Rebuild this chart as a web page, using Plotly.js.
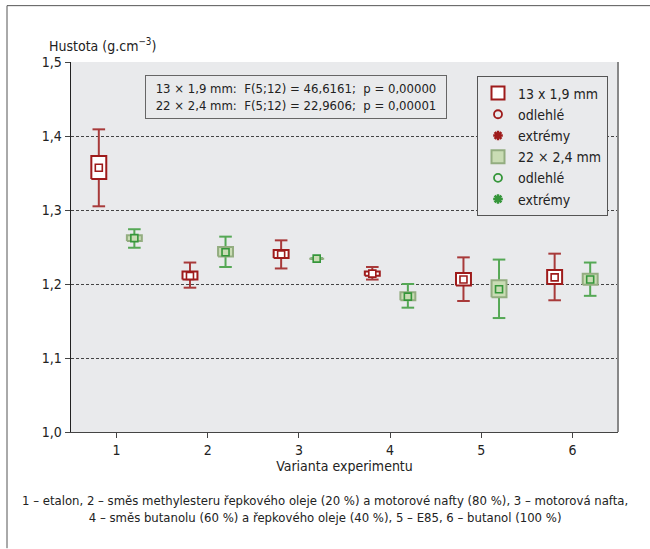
<!DOCTYPE html>
<html>
<head>
<meta charset="utf-8">
<script src="https://cdn.plot.ly/plotly-3.0.1.min.js"></script>
<style>html,body{margin:0;padding:0;background:#fff;}#chart{width:650px;height:549px;}</style>
</head>
<body>
<div id="chart"></div>
<script>
// ---- data ----
const variants = [1, 2, 3, 4, 5, 6];
const tickLabels = ['1', '2', '3', '4', '5', '6'];

// series A: 13 x 1,9 mm
const aMax    = [1.409, 1.229, 1.259, 1.223, 1.236, 1.241];
const aQ3     = [1.373, 1.217, 1.246, 1.217, 1.215, 1.219];
const aMedian = [1.357, 1.211, 1.240, 1.214, 1.206, 1.209];
const aQ1     = [1.342, 1.206, 1.235, 1.211, 1.198, 1.200];
const aMin    = [1.305, 1.195, 1.221, 1.206, 1.177, 1.178];

// series B: 22 x 2,4 mm
const bMax    = [1.274, 1.264, 1.2348, 1.200, 1.233, 1.229];
const bQ3     = [1.266, 1.250, 1.2346, 1.189, 1.205, 1.214];
const bMedian = [1.262, 1.243, 1.2343, 1.183, 1.193, 1.206];
const bQ1     = [1.258, 1.237, 1.2340, 1.178, 1.182, 1.199];
const bMin    = [1.249, 1.223, 1.2338, 1.168, 1.154, 1.184];

const seriesNames = ['13 x 1,9 mm', '22 × 2,4 mm'];
const outlierName = 'odlehlé';
const extremeName = 'extrémy';
const statLines = [
  '13 × 1,9 mm:  F(5;12) = 46,6161;  p = 0,00000',
  '22 × 2,4 mm:  F(5;12) = 22,9606;  p = 0,00001'
];
const yTitle = 'Hustota (g.cm<sup>−3</sup>)';
const xTitle = 'Varianta experimentu';
const footnote = '1 – etalon, 2 – směs methylesteru řepkového oleje (20 %) a motorové nafty (80 %), 3 – motorová nafta,<br>4 – směs butanolu (60 %) a řepkového oleje (40 %), 5 – E85, 6 – butanol (100 %)';

// ---- styling ----
const FONT = 'DejaVu Sans Condensed, Liberation Sans Narrow, Arial Narrow, sans-serif';
const TXT = '#222';
const RED = '#9e1b1b', RED_W = '#a83a3a';
const GRN = '#35963a', GRN_BORDER = '#93ad80', GRN_FILL = '#c9dcb4', GRN_W = '#55a855';
const OFFSET = 0.195, HALF = 0.082;

function boxTraces(off, q1, q3, med, lo, hi, lineCol, fillCol, whiskCol, medLine, medFill) {
  const wx = [], wy = [], bx = [], by = [], cx = [], cy = [];
  variants.forEach((v, i) => {
    const x = v + off;
    wx.push(x, x, null, x, x, null);
    wy.push(q3[i], hi[i], null, q1[i], lo[i], null);
    bx.push(x - HALF, x + HALF, x + HALF, x - HALF, x - HALF, null);
    by.push(q1[i], q1[i], q3[i], q3[i], q1[i], null);
    cx.push(x, x);
    cy.push(hi[i], lo[i]);
  });
  return [
    {type: 'scatter', mode: 'lines', x: wx, y: wy, line: {color: whiskCol, width: 2}, showlegend: false, hoverinfo: 'skip'},
    {type: 'scatter', mode: 'markers', x: cx, y: cy, marker: {symbol: 'line-ew', size: 9, line: {color: whiskCol, width: 2}}, showlegend: false, hoverinfo: 'skip'},
    {type: 'scatter', mode: 'lines', x: bx, y: by, fill: 'toself', fillcolor: fillCol, line: {color: lineCol, width: 2}, showlegend: false, hoverinfo: 'skip'},
    {type: 'scatter', mode: 'markers', x: variants.map(v => v + off), y: med,
      marker: {symbol: 'square', size: 7, color: medFill, line: {color: medLine, width: 1.6}}, showlegend: false}
  ];
}

const nul = [null];
const legendTraces = [
  {type: 'scatter', mode: 'markers', x: nul, y: nul, name: seriesNames[0],
    marker: {symbol: 'square', size: 13, color: '#fff', line: {color: RED, width: 2}}},
  {type: 'scatter', mode: 'markers', x: nul, y: nul, name: outlierName,
    marker: {symbol: 'circle-open', size: 8, color: RED, line: {width: 1.8}}},
  {type: 'scatter', mode: 'markers', x: nul, y: nul, name: extremeName,
    marker: {symbol: 'asterisk-open', size: 8, color: RED, line: {width: 2.5, color: RED}}},
  {type: 'scatter', mode: 'markers', x: nul, y: nul, name: seriesNames[1],
    marker: {symbol: 'square', size: 13, color: GRN_FILL, line: {color: GRN_BORDER, width: 2}}},
  {type: 'scatter', mode: 'markers', x: nul, y: nul, name: outlierName,
    marker: {symbol: 'circle-open', size: 8, color: GRN, line: {width: 1.8}}},
  {type: 'scatter', mode: 'markers', x: nul, y: nul, name: extremeName,
    marker: {symbol: 'asterisk-open', size: 8, color: GRN, line: {width: 2.5, color: GRN}}}
];

const data = [
  ...boxTraces(-OFFSET, aQ1, aQ3, aMedian, aMin, aMax, RED, '#ffffff', RED_W, RED, '#ffffff'),
  ...boxTraces(OFFSET, bQ1, bQ3, bMedian, bMin, bMax, GRN_BORDER, GRN_FILL, GRN_W, GRN, GRN_FILL),
  ...legendTraces
];

// plot area: x 71..618, y 61.5..432.5 px
const L = 71, R = 618, T = 61.5, B = 432.5, W = 650, H = 549;
const px = p => (p - L) / (R - L);
const py = p => (B - p) / (B - T);

const layout = {
  width: W, height: H,
  margin: {l: L, r: W - R, t: T, b: H - B, pad: 0},
  paper_bgcolor: '#ffffff',
  plot_bgcolor: '#e9eaec',
  separators: ', ',
  font: {family: FONT, size: 13, color: TXT},
  showlegend: true,
  legend: {
    x: px(477), y: py(76), xanchor: 'left', yanchor: 'top',
    bgcolor: '#e9eaec', bordercolor: '#555', borderwidth: 1,
    font: {family: FONT, size: 14, color: TXT},
    traceorder: 'normal', itemwidth: 30
  },
  xaxis: {
    range: [0.5, 6.5], tickvals: variants, ticktext: tickLabels,
    showgrid: false, zeroline: false, showline: true, linecolor: '#444', linewidth: 1,
    ticks: 'outside', ticklen: 5, tickcolor: '#444', tickfont: {size: 14, color: TXT},
    title: {text: xTitle, font: {size: 14, color: TXT}, standoff: 0}
  },
  yaxis: {
    range: [1.0, 1.5], tickvals: [1.0, 1.1, 1.2, 1.3, 1.4, 1.5], tickformat: '.1f',
    showgrid: true, gridcolor: '#444', gridwidth: 1, griddash: '3px,2px',
    zeroline: false, showline: true, linecolor: '#222', linewidth: 1.5,
    ticks: 'outside', ticklen: 5, tickcolor: '#444', tickfont: {size: 14, color: TXT}
  },
  annotations: [
    {xref: 'paper', yref: 'paper', x: px(47), y: py(44), xanchor: 'left', yanchor: 'middle',
      text: yTitle, showarrow: false, font: {size: 14, color: TXT}},
    {xref: 'paper', yref: 'paper', x: px(296), y: py(97), xanchor: 'center', yanchor: 'middle',
      text: statLines.join('<br>'), showarrow: false, align: 'center',
      bgcolor: '#e9eaec', bordercolor: '#666', borderwidth: 1, borderpad: 5, width: 290,
      font: {size: 13, color: TXT}},
    {xref: 'paper', yref: 'paper', x: px(325), y: py(510), xanchor: 'center', yanchor: 'middle',
      text: footnote, showarrow: false, align: 'center', font: {size: 13, color: TXT}}
  ],
  shapes: [
    {type: 'line', xref: 'paper', yref: 'paper', x0: px(R), x1: px(R), y0: 0, y1: 1, line: {color: '#888', width: 2}},
    {type: 'line', xref: 'paper', yref: 'paper', x0: px(7), x1: px(7), y0: py(5), y1: py(549), line: {color: '#555', width: 1}},
    {type: 'line', xref: 'paper', yref: 'paper', x0: px(7), x1: px(650), y0: py(5), y1: py(5), line: {color: '#555', width: 1}}
  ]
};

Plotly.newPlot('chart', data, layout, {displayModeBar: false, staticPlot: true});
</script>
</body>
</html>
